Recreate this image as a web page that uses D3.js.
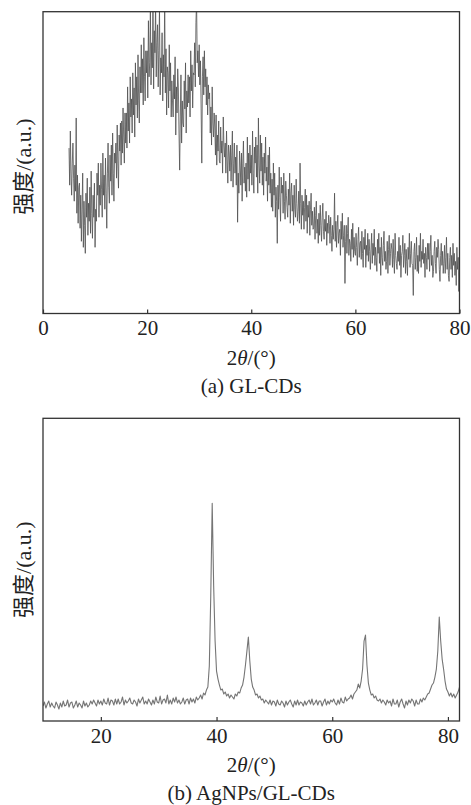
<!DOCTYPE html>
<html>
<head>
<meta charset="utf-8">
<script src="https://cdn.jsdelivr.net/npm/d3@7"></script>
<style>
  body { margin: 0; background: #fff; }
  svg { display: block; }
  text { font-family: "Liberation Serif", "Noto Sans CJK SC", serif; fill: #222; }
</style>
</head>
<body>
<div id="chart"></div>
<script>
// panel (a) GL-CDs, 2theta 5..80 every 0.125 deg
var anglesA = d3.range(5, 80.001, 0.125);
var intensityA = [
  165,128,182,140,118,150,170,135, 112,148,122,195,100,138,90,126,
  130,85,118,72,104,140,66,112, 88,60,120,96,135,78,110,92,
  126,80,142,100,75,118,96,130, 66,104,92,140,118,150,96,128,
  108,150,124,96,160,118,138,104, 155,120,85,140,170,126,110,158,
  132,168,118,180,140,112,160,150, 170,135,188,150,125,178,162,190,
  148,192,160,205,176,150,200,170, 200,165,226,182,210,170,236,196,
  214,180,240,198,225,176,250,208, 236,195,258,212,190,246,220,268,
  220,254,208,275,236,212,262,240, 262,215,292,236,250,302,228,270,
  245,315,224,282,260,310,236,270, 288,226,262,305,218,255,240,280,
  212,258,236,312,220,264,198,246, 240,205,268,222,250,196,232,212,
  196,238,214,256,178,226,200,244, 225,180,143,196,238,170,212,190,
  186,232,204,250,180,222,206,238, 210,236,196,262,222,248,205,240,
  238,270,226,290,312,250,262,236, 268,228,252,204,150,236,256,218,
  262,226,244,208,236,198,228,214, 220,180,206,168,226,190,176,200,
  186,158,198,148,178,162,192,152, 150,186,160,172,140,196,168,156,
  170,140,182,154,130,168,160,142, 168,132,158,182,126,150,170,140,
  156,128,168,91,140,120,162,148, 128,160,112,150,172,130,146,122,
  150,116,176,134,160,122,168,140, 158,128,182,140,120,166,150,176,
  136,168,120,195,148,130,178,142, 170,128,156,118,160,140,176,132,
  146,112,158,128,166,120,140,106, 134,102,150,118,140,96,126,112,
  70,128,104,146,116,92,136,120, 128,100,140,112,94,132,118,106,
  96,124,108,140,90,120,130,102, 118,88,128,104,96,134,110,92,
  102,122,90,150,110,84,118,98, 112,84,106,124,92,118,80,108,
  96,112,78,104,120,88,102,84, 86,106,74,98,112,80,94,70,
  100,78,108,88,72,96,110,82, 74,94,82,102,68,90,80,98,
  90,70,96,78,62,88,74,84, 120,72,92,66,86,98,70,80,
  84,58,92,74,100,66,78,88, 30,72,88,60,80,96,58,74,
  70,52,84,64,90,56,76,62, 58,80,66,48,74,86,56,70,
  72,54,82,60,46,76,64,84, 46,68,58,80,52,74,62,44,
  64,80,50,70,58,84,48,66, 56,42,74,60,80,50,66,38,
  76,56,48,68,82,52,62,44, 52,72,40,64,78,48,60,70,
  64,46,74,54,40,80,58,50, 44,62,52,76,48,68,36,58,
  62,78,46,58,70,40,64,52, 38,66,54,80,46,60,72,50,
  48,18,62,70,44,56,76,42, 58,40,68,52,80,46,62,54,
  74,50,60,36,66,56,44,70, 54,70,42,62,78,48,58,36,
  42,62,72,50,40,66,56,74, 64,44,32,58,70,48,62,40,
  50,68,40,56,76,44,60,38, 32,56,66,44,58,36,70,48,
  60,38,52,28,66,44,56,22,
  40
];

// panel (b) AgNPs/GL-CDs, 2theta 10..82 every 0.25 deg
var anglesB = d3.range(10, 82.001, 0.25);
var intensityB = [
  15,19,13,17, 20,14,18,15, 13,19,16,12, 18,14,20,15, 16,21,14,18, 19,13,16,20,
  14,18,16,13, 20,15,18,14, 16,20,17,21, 18,15,21,17, 20,16,22,18, 17,23,16,21,
  20,16,22,17, 22,17,19,24, 16,21,18,20, 23,18,17,21, 19,15,22,18, 21,24,17,20,
  17,22,19,16, 21,17,24,19, 18,25,17,21, 22,18,26,17, 21,17,23,19, 24,18,21,17,
  19,23,17,21, 22,17,23,19, 22,18,24,21, 23,26,22,28, 26,31,34,55, 125,218,136,80,
  50,42,36,31, 32,27,29,25, 27,23,26,24, 22,27,25,29, 28,33,36,44, 56,70,84,60,
  42,34,31,26, 27,23,25,21, 22,18,21,19, 17,21,16,20, 19,15,21,17, 16,20,18,14,
  20,16,19,21, 17,14,20,16, 21,16,19,18, 15,20,16,19, 21,17,22,16, 18,21,16,20,
  20,15,19,22, 16,20,17,21, 19,22,18,16, 21,17,23,19, 18,24,20,22, 23,26,22,27,
  29,31,37,33, 40,52,80,86, 56,38,31,26, 27,23,25,21, 20,22,18,21, 19,16,21,18,
  20,15,22,17, 17,21,14,19, 22,17,13,20, 16,21,18,22, 20,15,21,17, 17,22,19,23,
  21,24,27,28, 32,36,38,44, 52,70,104,80, 62,52,40,32, 29,25,28,24, 27,23,26,29,
  34
];

var ticksA = [0, 20, 40, 60, 80];
var ticksB = [20, 40, 60, 80];

var W = 471, H = 805;
var svg = d3.select("#chart").append("svg")
  .attr("width", W)
  .attr("height", H);

function drawPanel(opt) {
  var left = 43, right = 459.5;
  var x = d3.scaleLinear().domain(opt.xDomain).range([left, right]);
  var y = d3.scaleLinear().domain([0, opt.yMax]).range([opt.bottom, opt.top]);

  var g = svg.append("g");

  g.append("clipPath").attr("id", opt.id)
    .append("rect")
    .attr("x", left).attr("y", opt.top)
    .attr("width", right - left).attr("height", opt.bottom - opt.top);

  var pts = opt.angles.map(function (a, i) { return [a, opt.values[i]]; });
  var line = d3.line()
    .x(function (d) { return x(d[0]); })
    .y(function (d) { return y(d[1]); });

  g.append("path")
    .datum(pts)
    .attr("clip-path", "url(#" + opt.id + ")")
    .attr("fill", "none")
    .attr("stroke", opt.color)
    .attr("stroke-width", opt.width)
    .attr("stroke-linejoin", "round")
    .attr("d", line);

  // frame
  g.append("rect")
    .attr("x", left).attr("y", opt.top)
    .attr("width", right - left).attr("height", opt.bottom - opt.top)
    .attr("fill", "none")
    .attr("stroke", "#333")
    .attr("stroke-width", 1.3);

  var ax = g.append("g")
    .attr("transform", "translate(0," + opt.bottom + ")")
    .call(d3.axisBottom(x).tickValues(opt.ticks).tickSizeInner(-4).tickSizeOuter(0).tickPadding(7));
  ax.select(".domain").remove();
  ax.selectAll("line").attr("stroke", "#333").attr("stroke-width", 1.2);
  ax.selectAll("text")
    .style("font-family", "'Liberation Serif', serif")
    .style("font-size", "21px")
    .attr("fill", "#222");

  // x title
  var xt = g.append("text")
    .attr("x", (left + right) / 2)
    .attr("y", opt.bottom + 51)
    .attr("text-anchor", "middle")
    .style("font-size", "21px");
  xt.append("tspan").text("2");
  xt.append("tspan").attr("font-style", "italic").text("θ");
  xt.append("tspan").text("/(°)");

  // caption
  g.append("text")
    .attr("x", (left + right) / 2)
    .attr("y", opt.bottom + 79)
    .attr("text-anchor", "middle")
    .style("font-size", "21px")
    .text(opt.caption);

  // y title
  var cy = (opt.top + opt.bottom) / 2 + opt.yLabelShift;
  g.append("text")
    .attr("transform", "translate(31," + cy + ") rotate(-90)")
    .attr("text-anchor", "middle")
    .style("font-size", "22px")
    .text("强度/(a.u.)");
}

drawPanel({
  id: "clipA", top: 11.7, bottom: 313.5, xDomain: [0, 80], yMax: 301,
  angles: anglesA, values: intensityA, ticks: ticksA,
  color: "#505050", width: 0.8, caption: "(a) GL-CDs", yLabelShift: 4
});

drawPanel({
  id: "clipB", top: 418.3, bottom: 721, xDomain: [10, 82], yMax: 303,
  angles: anglesB, values: intensityB, ticks: ticksB,
  color: "#757575", width: 1.1, caption: "(b) AgNPs/GL-CDs", yLabelShift: 0
});
</script>
</body>
</html>
